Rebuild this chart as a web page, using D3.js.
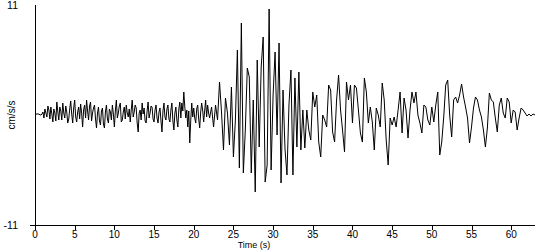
<!DOCTYPE html>
<html>
<head>
<meta charset="utf-8">
<script src="https://cdn.jsdelivr.net/npm/d3@7"></script>
<style>
  html, body { margin: 0; padding: 0; background: #fff; }
  svg { display: block; }
  text { font-family: "Liberation Sans", Arial, sans-serif; fill: #000; }
</style>
</head>
<body>
<svg id="chart" width="550" height="250"></svg>
<script>
// ---- data ----
const xTicks = [0, 5, 10, 15, 20, 25, 30, 35, 40, 45, 50, 55, 60];
const yTickLabels = [11, -11];
const xLabel = "Time (s)";
const yLabel = "cm/s/s";

// pre-event / early noise: starts at 0 s, one sample every 0.125 s
const earlyStart = 0;
const earlyInterval = 0.125;
const accelEarly = [
  0.1, 0.1, 0.1, 0.1, 0.1, 0.0, 0.0, 0.1, 0.3, -0.3,
  0.6, 0.2, -0.2, 0.9, 0.5, -0.4, 0.8, 0.1, -0.7, 0.6,
  0.2, -0.6, 1.3, 0.3, -0.5, 0.8, 0.4, -0.5, 1.2, 0.2,
  -0.3, 0.9, 0.3, -0.8, -0.4, 0.6, 1.4, 0.1, -0.8, 0.7,
  1.5, -0.2, -0.7, 0.3, 0.8, -0.4, 1.1, 0.2, -1.2, 0.5,
  1.0, -0.3, 1.5, 0.4, -0.5, 0.9, 1.3, -0.6, 0.2, 0.7,
  1.0, -0.4, -1.3, 0.2, 0.8, -0.6, -1.0, 0.4, 0.7, -0.9,
  -1.3, 0.3, 1.0, -0.4, -0.8, 0.6, 0.3, -0.5, 1.0, 0.1,
  -1.2, 0.4, 1.5, -0.3, 0.2, 0.9, 1.2, -0.7, -0.5, 0.3,
  0.8, -0.4, 1.0, 0.2, -0.2, 0.6, -0.7, 0.5, 1.5, -0.2,
  0.3, 1.0, 0.7, -0.8, -1.7, 0.2, 0.5, -0.5, 1.2, 0.1,
  0.7, -0.6, -0.8, 0.4, 1.3, -0.3, 0.2, 0.9, 0.8, -0.4,
  -0.7, 0.5, 1.0, -0.3, -0.8, 0.3, 0.7, -0.6, -1.7, 0.4,
  1.2, -0.2, -0.5, 0.6, 1.0, -0.4, -0.7, 0.5, 1.2, -0.6,
  -1.5, 0.2, 0.8, -0.5, -1.2, 0.6, 1.3, -0.3, 1.2, 0.4,
  2.3, 0.8, -0.3, 0.5, -1.2, 0.4, -2.8, -0.5, 1.2, -0.2,
  0.7, -0.3, -0.8, 0.6, 1.0, -0.4, -1.3, 0.3, 1.2, 0.5,
  -0.7, 0.4, 1.5, -0.2, 1.0, 0.2
];

// main shaking and coda: starts at 22 s, one sample every 0.25 s
const lateStart = 22;
const lateInterval = 0.25;
const accelLate = [
  -0.3, 0.8,
  -1.2, 1.0, -0.5, 3.3, 0.3, -3.5, 1.7, 0.2, -3.0, 2.8,
  -4.2, -0.5, 6.5, -5.3, 9.2, -5.8, -1.5, 4.7, 3.8, -5.8,
  1.5, -7.7, 5.5, -3.2, 4.8, 7.8, -6.7, -5.0, 10.6, -5.5,
  2.0, 6.3, -2.0, 7.2, -6.8, 2.5, -3.4, -6.0, 1.0, 4.5,
  -6.0, 3.7, -3.2, 4.3, -3.5, 0.5, -3.3, 0.5, -1.5, -2.5,
  2.3, 0.8, 2.0, -2.7, -4.2, 0.0, -0.5, -1.2, 3.0, 2.5,
  -1.7, -2.7, 1.5, 4.0, 0.5, -1.5, -3.7, 3.3, 1.5, 3.0,
  -0.8, 3.0, 2.7, 0.5, -1.8, -2.7, 3.7, 2.3, -0.8, 0.8,
  -0.7, -3.5, 0.7, 0.0, -1.2, 3.2, 1.5, -2.5, -5.0, -0.3,
  -1.0, -0.2, -1.2, 0.5, 2.3, -1.8, 1.7, 0.5, -2.3, 0.5,
  2.3, 1.2, 2.3, 0.0, -0.8, -1.8, 1.0, 0.8, -0.5, -1.0,
  0.8, -0.7, 1.0, 2.3, -4.0, -2.7, -0.2, 3.0, 3.5, 0.0,
  -2.2, 1.5, 1.8, 1.2, 2.0, 3.1, 1.8, 0.8, -0.3, -2.8,
  -1.2, 0.7, 1.8, 1.5, 0.5, -0.2, -1.5, -3.2, -1.3, 2.2,
  1.5, 1.3, -0.3, -1.7, 1.0, 1.7, 0.2, -0.3, 1.7, 1.3,
  -0.8, 0.5, 0.3, -1.5, -0.3, 0.7, 0.5, 0.2, -0.1, 0.1,
  -0.1, 0.1, 0.0
];

const series = accelEarly.map((v, i) => ({ t: earlyStart + i * earlyInterval, v }))
  .concat(accelLate.map((v, i) => ({ t: lateStart + i * lateInterval, v })));

// ---- layout ----
const svg = d3.select("#chart");
const x = d3.scaleLinear().domain([0, 63]).range([35, 535]);
const y = d3.scaleLinear().domain([-11, 11]).range([225, 5]);

// waveform
const line = d3.line().x(d => x(d.t)).y(d => y(d.v));
svg.append("path")
  .datum(series)
  .attr("d", line)
  .attr("fill", "none")
  .attr("stroke", "#000")
  .attr("stroke-width", 1);

// x axis
const xAxis = svg.append("g").attr("transform", `translate(0,${y(-11)})`);
xAxis.append("line")
  .attr("x1", 30).attr("x2", x(63))
  .attr("y1", 0.5).attr("y2", 0.5)
  .attr("stroke", "#000").attr("shape-rendering", "crispEdges");
xAxis.selectAll("line.tick").data(xTicks).join("line")
  .attr("class", "tick")
  .attr("x1", d => Math.round(x(d)) + 0.5).attr("x2", d => Math.round(x(d)) + 0.5)
  .attr("y1", 0).attr("y2", 5)
  .attr("stroke", "#000").attr("shape-rendering", "crispEdges");
xAxis.selectAll("text").data(xTicks).join("text")
  .attr("x", d => x(d))
  .attr("y", 12.5)
  .attr("text-anchor", "middle")
  .attr("font-size", 10)
  .text(d => d);

// y axis
svg.append("line")
  .attr("x1", x(0) + 0.5).attr("x2", x(0) + 0.5)
  .attr("y1", y(11)).attr("y2", y(-11))
  .attr("stroke", "#000").attr("shape-rendering", "crispEdges");
svg.selectAll("text.ylab").data(yTickLabels).join("text")
  .attr("class", "ylab")
  .attr("x", 18)
  .attr("y", d => y(d) + 4)
  .attr("text-anchor", "end")
  .attr("font-size", 10.5)
  .text(d => d);

// axis titles
svg.append("text")
  .attr("x", 254).attr("y", 248.2)
  .attr("text-anchor", "middle")
  .attr("font-size", 9)
  .text(xLabel);
svg.append("text")
  .attr("transform", `translate(15,${y(0)}) rotate(-90)`)
  .attr("text-anchor", "middle")
  .attr("font-size", 10)
  .text(yLabel);
</script>
</body>
</html>
